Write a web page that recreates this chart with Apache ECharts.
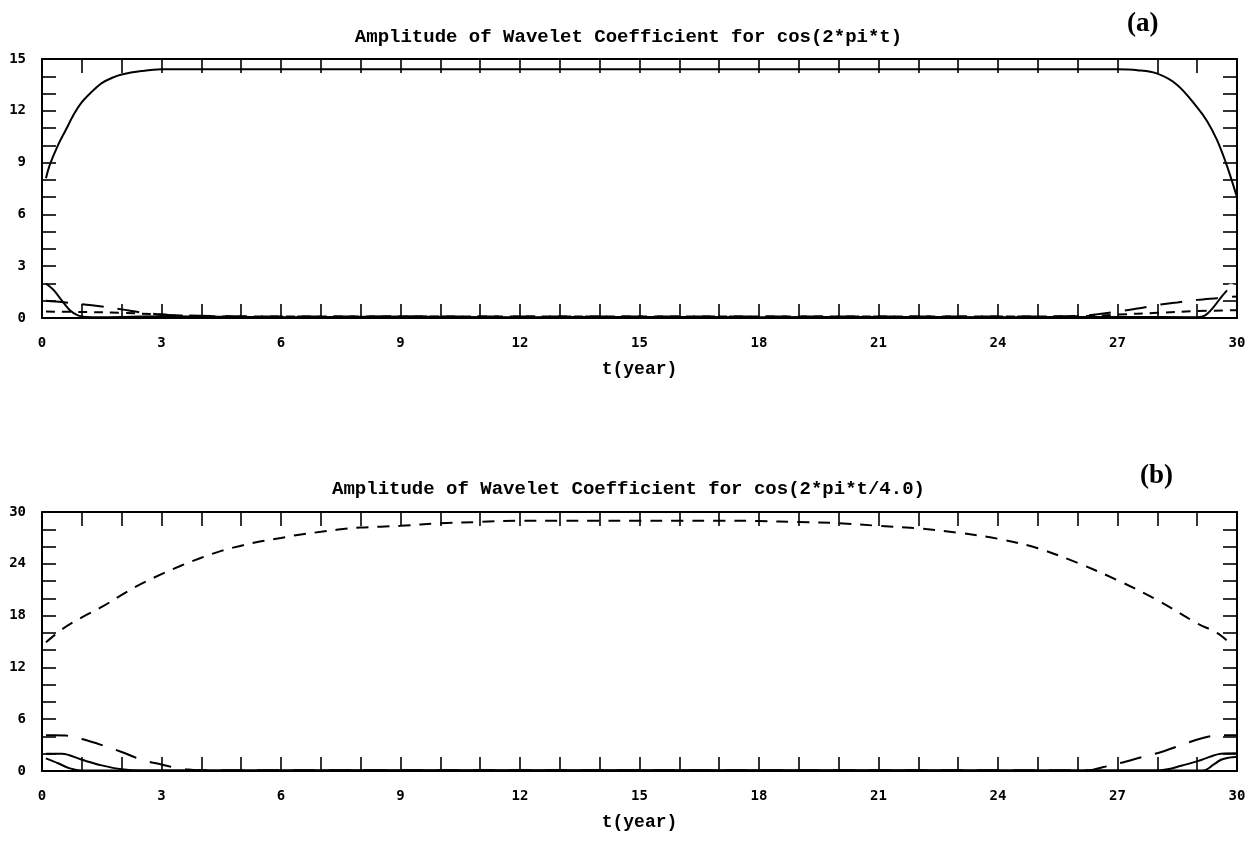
<!DOCTYPE html>
<html>
<head>
<meta charset="utf-8">
<script src="https://cdn.jsdelivr.net/npm/echarts@6/dist/echarts.min.js"></script>
<style>
html,body{margin:0;padding:0;background:#fff;}
#chart{width:1257px;height:848px;}
</style>
</head>
<body>
<div id="chart"></div>
<script>
// ---------- Data ----------
const titleA = 'Amplitude of Wavelet Coefficient for cos(2*pi*t)';
const titleB = 'Amplitude of Wavelet Coefficient for cos(2*pi*t/4.0)';
const xName = 't(year)';

// Panel (a)
const aMainT = [0.1,0.2,0.4,0.6,0.8,1.0,1.25,1.5,1.75,2.0,2.5,3.0,9,15,21,27.0,27.5,28.0,28.5,29.0,29.25,29.5,29.75,30];
const aMainV = [8.1,8.9,10.0,10.9,11.8,12.5,13.1,13.6,13.9,14.1,14.3,14.4,14.4,14.4,14.4,14.4,14.35,14.15,13.5,12.2,11.4,10.3,8.8,7.0];

const aSolidT = [0.1,0.3,0.5,0.7,0.9,1.1,1.5,3,6,9,12,15,18,21,24,27,29.0,29.2,29.4,29.6,29.75];
const aSolidV = [2.0,1.6,1.0,0.45,0.15,0.06,0.05,0.1,0.05,0.08,0.05,0.06,0.05,0.06,0.05,0.06,0.05,0.15,0.6,1.2,1.6];

const aCircleT = [29.85];
const aCircleV = [1.8];

const aLongT = [0.1,0.5,1.0,1.5,2.0,2.5,3.0,3.5,6,12,18,24,26.0,26.5,27.0,27.5,28.0,28.5,29.0,29.5,30];
const aLongV = [1.0,0.92,0.8,0.66,0.5,0.32,0.2,0.15,0.08,0.08,0.08,0.08,0.12,0.22,0.38,0.55,0.75,0.9,1.05,1.15,1.25];

const aShortT = [0.1,1.0,2.0,3.0,4.0,8,15,22,26,27,28,29,30];
const aShortV = [0.37,0.35,0.3,0.2,0.1,0.08,0.08,0.08,0.1,0.2,0.3,0.4,0.45];

// Panel (b)
const bMainT = [0.1,0.5,1,1.5,2,2.5,3,3.5,4,4.5,5,5.5,6,6.5,7,7.5,8,8.5,9,10,11,12,13,14,15,16,17,18,19,20,21,22,23,24,25,26,27,28,29,29.5,29.8];
const bMainV = [14.9,16.4,17.8,19.0,20.4,21.7,22.8,23.8,24.7,25.5,26.1,26.6,27.0,27.4,27.7,28.0,28.2,28.3,28.4,28.7,28.85,29.0,29.0,29.0,29.0,29.0,29.0,28.95,28.85,28.7,28.4,28.1,27.6,26.9,25.8,24.1,22.1,19.8,17.1,16.0,14.9];

const bLongT = [0.1,0.3,0.6,1.0,1.5,2.0,2.5,3.0,3.3,3.6,4.0,10,15,20,26.3,26.6,27.1,27.6,28.1,28.6,29.1,29.6,30];
const bLongV = [4.15,4.15,4.1,3.7,3.0,2.2,1.3,0.75,0.42,0.2,0.1,0.1,0.1,0.1,0.1,0.4,0.96,1.6,2.2,3.0,3.77,4.15,4.15];

const bSolid1T = [0.1,0.5,1.0,1.5,2.0,2.5,8,15,22,27.5,28.1,28.6,29.1,29.6,30];
const bSolid1V = [2.0,2.0,1.3,0.65,0.2,0.06,0.08,0.08,0.08,0.06,0.1,0.6,1.27,2.0,2.05];

const bSolid2T = [0.1,0.4,0.7,1.0,8,15,22,29.0,29.2,29.4,29.6,29.8,30];
const bSolid2V = [1.46,0.9,0.3,0.05,0.05,0.05,0.05,0.05,0.1,0.7,1.3,1.55,1.65];

// axis ranges / tick steps
const xMin = 0, xMax = 30, xStep = 3;
const aYMax = 15, aYStep = 3;
const bYMax = 30, bYStep = 6;

// ---------- Helpers ----------
const zip = (t, v) => t.map((x, i) => [x, v[i]]);
const FONT = 'Liberation Mono';
const LFONT = 'DejaVu Sans Mono';
const INK = '#000';

function xAxisPair(gridIndex) {
  const common = {
    type: 'value', gridIndex, min: xMin, max: xMax, interval: xStep,
    axisLine: { show: true, onZero: false, lineStyle: { color: INK, width: 2 } },
    axisTick: { show: true, inside: true, length: 14, lineStyle: { color: INK, width: 1.6 } },
    minorTick: { show: true, splitNumber: 3, length: 14, lineStyle: { color: INK, width: 1.6 } },
    splitLine: { show: false }
  };
  return [
    Object.assign({}, common, {
      position: 'bottom',
      axisLabel: { show: true, margin: 18, color: INK, fontFamily: LFONT, fontWeight: 'bold', fontSize: 14 },
      name: xName, nameLocation: 'middle', nameGap: 42,
      nameTextStyle: { color: INK, fontFamily: FONT, fontWeight: 'bold', fontSize: 18 }
    }),
    Object.assign({}, common, { position: 'top', axisLabel: { show: false } })
  ];
}
function yAxisPair(gridIndex, max, step) {
  const common = {
    type: 'value', gridIndex, min: 0, max, interval: step,
    axisLine: { show: true, onZero: false, lineStyle: { color: INK, width: 2 } },
    axisTick: { show: true, inside: true, length: 14, lineStyle: { color: INK, width: 1.6 } },
    minorTick: { show: true, splitNumber: 3, length: 14, lineStyle: { color: INK, width: 1.6 } },
    splitLine: { show: false }
  };
  return [
    Object.assign({}, common, {
      position: 'left',
      axisLabel: { show: true, margin: 16, color: INK, fontFamily: LFONT, fontWeight: 'bold', fontSize: 14 }
    }),
    Object.assign({}, common, { position: 'right', axisLabel: { show: false } })
  ];
}
function line(name, t, v, xi, yi, type, width) {
  return {
    name, type: 'line', xAxisIndex: xi, yAxisIndex: yi, data: zip(t, v),
    smooth: 0.35, symbol: 'none', silent: true, clip: true,
    lineStyle: { color: INK, width: width || 2, type: type || 'solid' }
  };
}

const chart = echarts.init(document.getElementById('chart'), null, { renderer: 'canvas' });
chart.setOption({
  backgroundColor: '#fff',
  animation: false,
  title: [
    { text: titleA, left: 'center', top: 23, textStyle: { color: INK, fontFamily: FONT, fontWeight: 'bold', fontSize: 19 } },
    { text: titleB, left: 'center', top: 475, textStyle: { color: INK, fontFamily: FONT, fontWeight: 'bold', fontSize: 19 } }
  ],
  graphic: [
    { type: 'text', left: 1127, top: 11, style: { text: '(a)', fill: INK, font: 'bold 27px "Liberation Serif"' } },
    { type: 'text', left: 1140, top: 463, style: { text: '(b)', fill: INK, font: 'bold 27px "Liberation Serif"' } }
  ],
  grid: [
    { left: 42, right: 20, top: 59, height: 259 },
    { left: 42, right: 20, top: 512, height: 259 }
  ],
  xAxis: [].concat(xAxisPair(0), xAxisPair(1)),
  yAxis: [].concat(yAxisPair(0, aYMax, aYStep), yAxisPair(1, bYMax, bYStep)),
  series: [
    line('a-main', aMainT, aMainV, 0, 0, 'solid', 2),
    line('a-solid', aSolidT, aSolidV, 0, 0, 'solid', 2),
    line('a-long', aLongT, aLongV, 0, 0, [22, 14], 2),
    line('a-short', aShortT, aShortV, 0, 0, [9, 7], 2),
    {
      name: 'a-circle', type: 'scatter', xAxisIndex: 0, yAxisIndex: 0, data: zip(aCircleT, aCircleV),
      symbol: 'emptyCircle', symbolSize: 5, silent: true,
      itemStyle: { color: '#fff', borderColor: INK, borderWidth: 1.5 }
    },
    line('b-main', bMainT, bMainV, 2, 2, [12, 9], 2),
    line('b-long', bLongT, bLongV, 2, 2, [22, 14], 2),
    line('b-solid1', bSolid1T, bSolid1V, 2, 2, 'solid', 2),
    line('b-solid2', bSolid2T, bSolid2V, 2, 2, 'solid', 2)
  ]
});
</script>
</body>
</html>
